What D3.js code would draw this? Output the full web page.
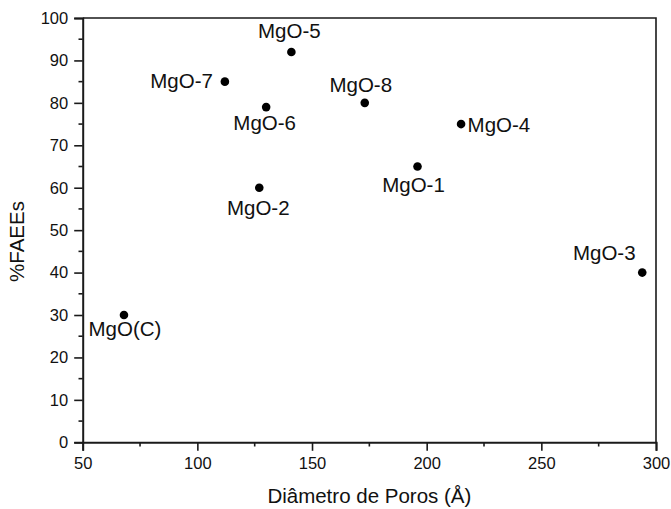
<!DOCTYPE html>
<html>
<head>
<meta charset="utf-8">
<script src="https://cdn.jsdelivr.net/npm/d3@7"></script>
<style>
  html, body { margin: 0; padding: 0; background: #fff; }
  svg { display: block; font-family: Arial, "Liberation Sans", Helvetica, sans-serif; }
</style>
</head>
<body>
<svg id="chart" width="671" height="509"></svg>
<script>
// Samples, pore diameter (Å) and FAEE yield (%)
const samples  = ["MgO(C)", "MgO-2", "MgO-6", "MgO-7", "MgO-5", "MgO-8", "MgO-1", "MgO-4", "MgO-3"];
const diameter = [68, 127, 130, 112, 141, 173, 196, 215, 294];
const faees    = [30, 60, 79, 85, 92, 80, 65, 75, 40];

// Axis ticks
const xTicks = [50, 100, 150, 200, 250, 300];
const yTicks = [0, 10, 20, 30, 40, 50, 60, 70, 80, 90, 100];

// Where each sample label sits relative to its point
const labelPlacement = {
  "MgO(C)": { anchor: "middle", dx: 1,   dy: 21 },
  "MgO-2":  { anchor: "middle", dx: -1,  dy: 27 },
  "MgO-6":  { anchor: "middle", dx: -1.5, dy: 23 },
  "MgO-7":  { anchor: "end",    dx: -12, dy: 6.5 },
  "MgO-5":  { anchor: "middle", dx: -2,  dy: -14 },
  "MgO-8":  { anchor: "middle", dx: -4,  dy: -11 },
  "MgO-1":  { anchor: "middle", dx: -4,  dy: 25.5 },
  "MgO-4":  { anchor: "start",  dx: 6.5, dy: 7.5 },
  "MgO-3":  { anchor: "middle", dx: -38, dy: -13 }
};

const margin = { top: 18, right: 15, bottom: 66.7, left: 82.7 };
const W = 671, H = 509;
const svg = d3.select("#chart");

const x = d3.scaleLinear().domain([50, 300]).range([margin.left, W - margin.right]);
const y = d3.scaleLinear().domain([0, 100]).range([H - margin.bottom, margin.top]);

const ink = "#1a1a1a";

// Frame (top and right edges)
svg.append("path")
  .attr("d", `M${x(50)},${y(100)}H${x(300)}V${y(0)}`)
  .attr("fill", "none")
  .attr("stroke", ink)
  .attr("stroke-width", 1.6);

// Minor ticks at half steps
const xMinor = d3.range(75, 300, 50);
const yMinor = d3.range(5, 100, 10);

const gx = svg.append("g").attr("transform", `translate(0,${y(0)})`);
gx.selectAll("line.minor").data(xMinor).join("line")
  .attr("x1", d => x(d)).attr("x2", d => x(d))
  .attr("y1", 0).attr("y2", 4.2)
  .attr("stroke", ink).attr("stroke-width", 1.6);
gx.call(d3.axisBottom(x).tickValues(xTicks).tickSize(8.5).tickPadding(6).tickFormat(d3.format("d")))
  .call(g => g.select(".domain").attr("stroke", ink).attr("stroke-width", 2))
  .call(g => g.selectAll(".tick line").attr("stroke", ink).attr("stroke-width", 1.6))
  .call(g => g.selectAll(".tick text").attr("fill", "#111").attr("font-size", "16.5px")
    .attr("font-family", "Arial, 'Liberation Sans', sans-serif"));

const gy = svg.append("g").attr("transform", `translate(${x(50)},0)`);
gy.selectAll("line.minor").data(yMinor).join("line")
  .attr("y1", d => y(d)).attr("y2", d => y(d))
  .attr("x1", 0).attr("x2", -4.2)
  .attr("stroke", ink).attr("stroke-width", 1.6);
gy.call(d3.axisLeft(y).tickValues(yTicks).tickSize(8.5).tickPadding(6).tickFormat(d3.format("d")))
  .call(g => g.select(".domain").attr("stroke", ink).attr("stroke-width", 2))
  .call(g => g.selectAll(".tick line").attr("stroke", ink).attr("stroke-width", 1.6))
  .call(g => g.selectAll(".tick text").attr("fill", "#111").attr("font-size", "16.5px")
    .attr("font-family", "Arial, 'Liberation Sans', sans-serif"));

// Axis titles
svg.append("text")
  .attr("x", (x(50) + x(300)) / 2)
  .attr("y", 503)
  .attr("text-anchor", "middle")
  .attr("font-size", "20.5px")
  .attr("fill", "#111")
  .text("Diâmetro de Poros (Å)");

svg.append("text")
  .attr("transform", "translate(24,241.5) rotate(-90)")
  .attr("text-anchor", "middle")
  .attr("font-size", "20.5px")
  .attr("fill", "#111")
  .text("%FAEEs");

// Points
const rows = samples.map((s, i) => ({ name: s, d: diameter[i], v: faees[i] }));

svg.append("g").selectAll("circle").data(rows).join("circle")
  .attr("cx", d => x(d.d))
  .attr("cy", d => y(d.v))
  .attr("r", 4.3)
  .attr("fill", "#000");

// Sample labels
svg.append("g").selectAll("text").data(rows).join("text")
  .attr("x", d => x(d.d) + labelPlacement[d.name].dx)
  .attr("y", d => y(d.v) + labelPlacement[d.name].dy)
  .attr("text-anchor", d => labelPlacement[d.name].anchor)
  .attr("font-size", "20.5px")
  .attr("fill", "#111")
  .text(d => d.name);
</script>
</body>
</html>
